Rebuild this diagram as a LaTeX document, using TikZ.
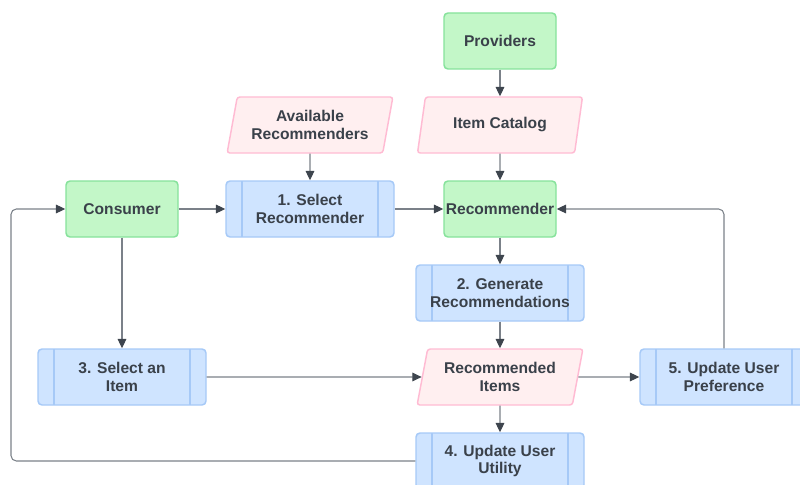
\documentclass[tikz,border=0pt]{standalone}
\usepackage{fontspec}
\setmainfont{Liberation Sans}
\usetikzlibrary{shapes.geometric,arrows.meta}
\definecolor{txtdark}{HTML}{3A414A}
\definecolor{linegray}{HTML}{7B8189}
\definecolor{arrowdark}{HTML}{3E454E}
\definecolor{greenfill}{HTML}{C3F7C8}
\definecolor{greenline}{HTML}{86E29B}
\definecolor{pinkfill}{HTML}{FFEFF0}
\definecolor{pinkline}{HTML}{FFBBD3}
\definecolor{bluefill}{HTML}{CFE4FF}
\definecolor{blueline}{HTML}{A6C9F7}

\begin{document}
\begin{tikzpicture}[x=0.75pt,y=-0.75pt,
        every node/.style={font=\bfseries\fontsize{11.7}{13.3}\selectfont,text=txtdark,align=center},
        entity/.style={draw=greenline,fill=greenfill,line width=1.1pt,rounded corners=3pt,inner xsep=0pt,minimum width=84pt,minimum height=42pt},
        data/.style={trapezium,trapezium left angle=77,trapezium right angle=103,trapezium stretches=true,draw=pinkline,fill=pinkfill,line width=1.1pt,rounded corners=2pt,minimum width=124.5pt,minimum height=42pt},
        process/.style={draw=blueline,fill=bluefill,line width=1.1pt,rounded corners=3pt,minimum width=126pt,minimum height=42pt,
            path picture={\draw[blueline,line width=1.1pt] ([xshift=12pt]path picture bounding box.north west) -- ([xshift=12pt]path picture bounding box.south west)
                ([xshift=-12pt]path picture bounding box.north east) -- ([xshift=-12pt]path picture bounding box.south east);}},
        flow/.style={draw=linegray,line width=0.8pt,-{Triangle[length=7pt,width=6.5pt,color=arrowdark]}}]
        \useasboundingbox (0,0) rectangle (800,485);
        \node [entity] (providers) at (500,41) {Providers};
        \node [data] (catalog) at (500,125) {Item Catalog};
        \node [data] (avail) at (310,125) {Available\\Recommenders};
        \node [entity] (consumer) at (122,209) {Consumer};
        \node [process] (select) at (310,209) {1. Select\\Recommender};
        \node [entity] (recommender) at (500,209) {Recommender};
        \node [process] (generate) at (500,293) {2. Generate\\Recommendations};
        \node [process] (selitem) at (122,377) {3. Select an\\Item};
        \node [data] (recitems) at (500,377) {Recommended\\Items};
        \node [process] (prefs) at (724,377) {5. Update User\\Preference};
        \node [process] (utility) at (500,461) {4. Update User\\Utility};
        \coordinate (loopleft) at (11,461);
        \draw [flow] (providers) -- (catalog);
        \draw [flow] (catalog) -- (recommender);
        \draw [flow] (avail) -- (select);
        \draw [flow] (consumer) -- (select);
        \draw [flow] (select) -- (recommender);
        \draw [flow] (recommender) -- (generate);
        \draw [flow] (generate) -- (recitems);
        \draw [flow] (consumer) -- (selitem);
        \draw [flow] (selitem) -- (recitems);
        \draw [flow] (recitems) -- (prefs);
        \draw [flow] (recitems) -- (utility);
        \draw [flow,rounded corners=4pt] (prefs) |- (recommender);
        \draw [flow,rounded corners=4pt] (utility) -- (loopleft) |- (consumer);
    \end{tikzpicture}
\end{document}
